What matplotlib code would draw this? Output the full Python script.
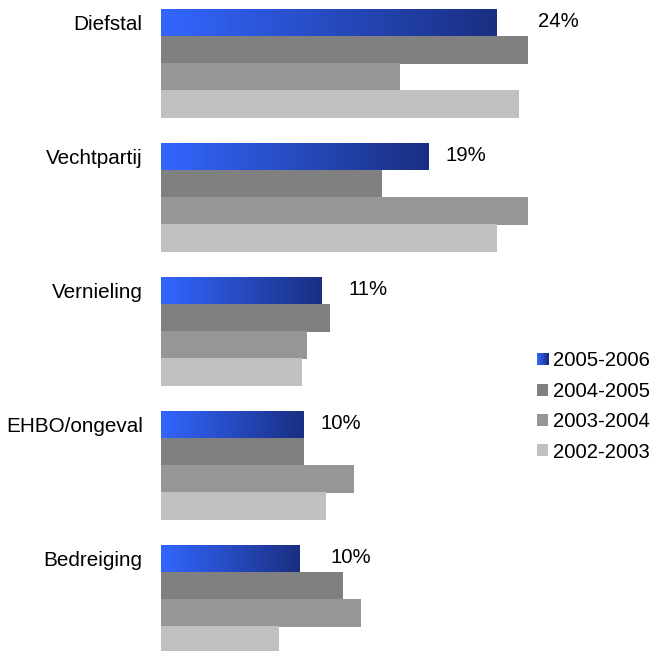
import numpy as np
import matplotlib
matplotlib.use("Agg")
import matplotlib.pyplot as plt
from matplotlib.patches import Rectangle
from matplotlib.legend_handler import HandlerBase
from matplotlib.colors import LinearSegmentedColormap

plt.rcParams["font.family"] = ["Liberation Sans", "DejaVu Sans"]

categories = ["Diefstal", "Vechtpartij", "Vernieling", "EHBO/ongeval", "Bedreiging"]
seriesNames = ["2005-2006", "2004-2005", "2003-2004", "2002-2003"]
values2005 = [24.0, 19.1, 11.5, 10.2, 9.9]
values2004 = [26.2, 15.8, 12.1, 10.2, 13.0]
values2003 = [17.1, 26.2, 10.4, 13.8, 14.3]
values2002 = [25.6, 24.0, 10.1, 11.8, 8.4]
valueLabels = ["24%", "19%", "11%", "10%", "10%"]
labelX = [26.9, 20.3, 13.4, 11.4, 12.1]

blueLeft = "#3366ff"
blueRight = "#1a2f82"
grayColors = ["#808080", "#969696", "#c0c0c0"]
blueMap = LinearSegmentedColormap.from_list("bluegrad", [blueLeft, blueRight])


class GradientHandler(HandlerBase):
    def create_artists(self, legend, orig_handle, xdescent, ydescent, width, height, fontsize, trans):
        steps = 10
        artists = []
        for k in range(steps):
            c = blueMap(k / (steps - 1))
            r = Rectangle((-xdescent + width * k / steps, -ydescent), width / steps + 0.3, height,
                          facecolor=c, edgecolor="none", transform=trans)
            artists.append(r)
        return artists


W, H = 653, 651
fig = plt.figure(figsize=(W / 100, H / 100), dpi=100)
axLeft = 161
ax = fig.add_axes([axLeft / W, 0, (W - axLeft) / W, 1])
pxPerUnit = 14.0
ax.set_xlim(0, (W - axLeft) / pxPerUnit)
groupPitch = 134.0
barH = 27.0 / groupPitch
ax.set_ylim(H / groupPitch - 9 / groupPitch, -9 / groupPitch)

ypos = np.arange(len(categories))
allSeries = [values2005, values2004, values2003, values2002]

# gradient bars for the latest season
gradImg = np.linspace(0, 1, 256).reshape(1, -1)
for i, v in enumerate(values2005):
    bar = ax.barh(ypos[i], v, height=barH, align="edge", color="none", edgecolor="none")[0]
    im = ax.imshow(gradImg, cmap=blueMap, aspect="auto",
                   extent=[0, v, ypos[i] + barH, ypos[i]], zorder=2)
    im.set_clip_path(bar)

handles = [Rectangle((0, 0), 1, 1, facecolor=blueLeft)]
for j in range(1, 4):
    b = ax.barh(ypos + j * barH, allSeries[j], height=barH * 1.02, align="edge",
                color=grayColors[j - 1], edgecolor="none", zorder=2)
    handles.append(b)

for i, lbl in enumerate(valueLabels):
    ax.text(labelX[i], ypos[i] + barH / 2 - 0.01, lbl, ha="left", va="center", fontsize=14.6)

ax.set_yticks(ypos + barH / 2)
ax.set_yticklabels(categories, fontsize=14.9)
ax.tick_params(axis="y", length=0, pad=13.2)
ax.set_xticks([])
for s in ax.spines.values():
    s.set_visible(False)

leg = fig.legend(handles, seriesNames, loc="center left",
                 bbox_to_anchor=(537 / W, 1 - 406.5 / H), frameon=False,
                 fontsize=14.6, handlelength=0.55, handleheight=0.55,
                 handletextpad=0.25, labelspacing=0.56, borderpad=0, borderaxespad=0,
                 handler_map={handles[0]: GradientHandler()})

fig.savefig("out.png", dpi=100)
